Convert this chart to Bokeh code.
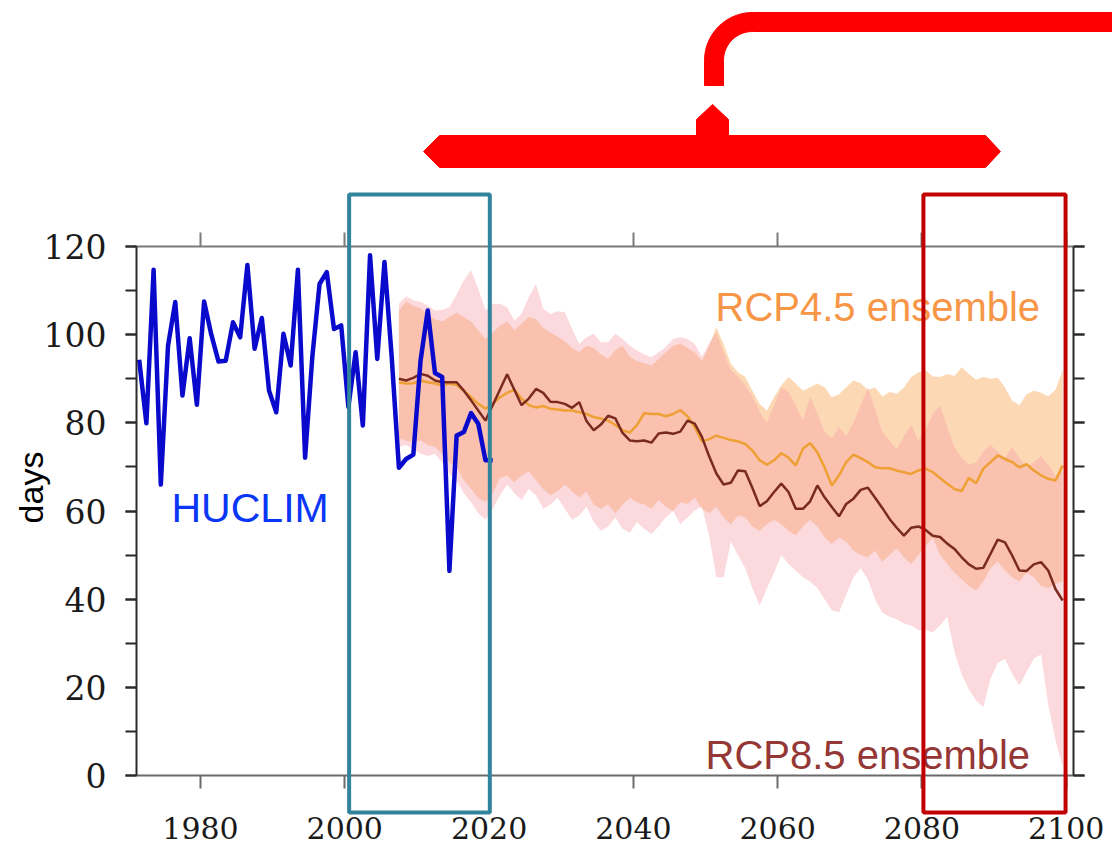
import math
from bokeh.plotting import figure
from bokeh.models import (LinearAxis, SingleIntervalTicker, Label, BoxAnnotation,
                          CustomJSTickFormatter, Range1d)
from bokeh.embed import file_html
from bokeh.resources import INLINE

# ---------------- data ----------------
obs_years = list(range(1971, 2021))
huclim = [94.3, 79.9, 114.7, 66.0, 97.5, 107.4, 86.2, 99.2, 84.1, 107.5,
          100.0, 93.9, 94.1, 102.8, 99.4, 115.8, 96.8, 103.8, 87.3, 82.4,
          100.2, 93.0, 114.7, 72.1, 95.0, 111.5, 114.2, 101.3, 102.1, 83.6,
          96.0, 79.4, 118.0, 94.5, 116.5, 95.0, 69.8, 71.8, 72.8, 94.1,
          105.5, 91.3, 90.4, 46.4, 77.1, 77.9, 82.2, 79.8, 71.5, 71.5]

proj_years = list(range(2007, 2100))
rcp85_mean = [90.0, 89.6, 90.2, 91.1, 90.7, 89.6, 89.2, 89.2, 89.2, 87.3,
              85.1, 82.8, 80.5, 84.0, 87.5, 91.0, 87.5, 84.0, 85.5, 87.7,
              86.8, 84.8, 84.7, 84.3, 83.4, 84.7, 80.4, 78.3, 79.6, 81.6,
              81.0, 77.7, 76.0, 75.8, 76.0, 75.5, 77.6, 77.8, 77.5, 78.0,
              80.5, 79.8, 76.8, 72.4, 68.5, 66.0, 66.4, 69.2, 69.0, 65.2,
              61.1, 62.2, 64.3, 66.2, 64.3, 60.5, 60.5, 62.2, 65.8, 63.1,
              60.9, 58.8, 61.6, 62.8, 64.8, 65.3, 63.0, 60.7, 58.2, 56.2,
              54.4, 56.2, 56.5, 55.7, 54.4, 54.1, 52.6, 51.4, 49.5, 47.9,
              46.9, 47.1, 50.3, 53.5, 52.9, 49.9, 46.5, 46.4, 47.9, 48.4,
              46.5, 42.3, 39.7]
rcp45_mean = [89.2, 88.9, 89.0, 89.6, 89.2, 88.9, 88.5, 88.9, 88.6, 87.3,
              85.8, 84.3, 83.2, 84.3, 85.8, 86.8, 87.5, 85.5, 84.0, 83.5,
              83.8, 83.2, 83.0, 82.8, 82.8, 82.4, 82.0, 81.3, 81.0, 80.5,
              79.5, 78.3, 77.8, 79.5, 82.2, 82.0, 82.0, 81.5, 82.0, 82.9,
              81.5, 79.0, 75.8, 76.3, 77.1, 76.6, 76.1, 75.8, 75.2, 73.7,
              71.5, 70.5, 71.5, 73.1, 72.1, 70.3, 74.1, 75.4, 73.3, 69.9,
              65.8, 68.1, 71.1, 72.8, 72.0, 71.1, 69.9, 69.7, 69.7, 69.2,
              68.8, 68.4, 69.2, 69.6, 68.8, 67.5, 66.2, 65.0, 64.5, 67.5,
              66.3, 69.6, 71.1, 72.6, 71.8, 71.1, 69.9, 70.6, 69.2, 68.1,
              67.3, 66.9, 70.3]
rcp85_high = [107.0, 108.7, 107.8, 107.4, 106.6, 105.5, 105.6, 106.2, 109.1, 112.3,
              114.6, 110.4, 105.5, 107.0, 107.0, 106.2, 103.2, 104.7, 108.5, 111.5,
              105.9, 104.7, 105.3, 105.1, 101.3, 97.9, 99.4, 100.2, 98.3, 98.3,
              100.2, 99.1, 97.5, 96.4, 95.5, 94.9, 96.0, 97.2, 99.0, 99.4,
              99.0, 97.9, 95.0, 98.0, 100.5, 96.0, 92.0, 90.5, 88.5, 86.0,
              82.5, 80.0, 84.0, 88.0, 87.0, 84.0, 80.5, 86.0, 82.0, 78.0,
              76.5, 79.0, 77.0, 80.0, 84.0, 88.0, 83.0, 78.0, 76.0, 74.0,
              77.0, 79.5, 76.0, 78.5, 82.0, 84.0, 79.0, 74.5, 72.0, 70.5,
              71.0, 73.5, 75.0, 73.5, 72.0, 74.5, 72.0, 70.0, 71.0, 72.5,
              70.5, 68.0, 69.0]
rcp85_low = [74.5, 75.0, 74.0, 73.0, 72.5, 73.0, 71.0, 68.5, 67.0, 64.0,
             62.0, 59.5, 58.0, 60.5, 63.5, 66.0, 64.0, 62.5, 65.0, 63.5,
             60.5, 61.5, 63.0, 60.5, 58.0, 59.0, 61.0, 57.5, 55.5, 56.5,
             58.5, 56.0, 55.0, 57.5, 56.0, 54.8, 56.5, 58.6, 60.0, 57.0,
             58.5, 60.1, 61.0, 54.5, 45.0, 45.0, 53.0, 50.0, 47.0, 42.5,
             38.5, 42.5, 46.0, 50.0, 48.0, 46.5, 45.0, 44.0, 42.5, 40.0,
             37.5, 37.0, 41.0, 45.0, 47.0, 44.5, 40.0, 37.0, 36.0, 35.5,
             34.5, 34.0, 33.0, 33.0, 32.5, 34.0, 36.0, 28.0, 23.0, 19.5,
             17.0, 15.5, 22.0, 25.5, 26.5, 23.0, 20.5, 23.5, 26.5, 27.5,
             16.0, 8.0, 2.0]
rcp45_high = [105.5, 107.5, 106.5, 106.0, 104.5, 103.5, 103.0, 104.0, 105.0, 104.0,
              103.0, 101.0, 99.0, 100.5, 102.0, 103.0, 101.0, 102.5, 104.0, 103.5,
              101.5, 100.5, 99.5, 98.5, 97.0, 96.0, 97.5, 97.0, 95.5, 94.5,
              96.5, 97.5, 95.0, 94.0, 93.5, 93.0, 94.5, 96.0, 97.5, 98.0,
              97.0, 96.0, 94.0, 97.5, 101.7, 97.9, 93.4, 91.5, 90.4, 87.3,
              84.3, 82.8, 85.8, 88.5, 90.4, 88.9, 87.3, 88.1, 88.9, 88.1,
              85.8, 86.5, 88.1, 89.6, 89.0, 87.5, 88.0, 86.0, 87.0, 86.6,
              88.0, 90.4, 91.5, 91.9, 90.5, 90.4, 91.1, 90.6, 92.6, 91.1,
              89.8, 90.4, 90.0, 90.2, 88.0, 85.0, 84.0, 86.5, 87.3, 86.8,
              86.0, 87.5, 91.9]
rcp45_low = [76.5, 76.0, 75.5, 76.0, 75.0, 74.5, 73.0, 71.0, 70.0, 67.0,
             65.0, 63.0, 62.0, 64.0, 67.5, 68.0, 66.5, 68.0, 69.0, 67.0,
             65.0, 63.6, 64.5, 66.0, 64.5, 63.0, 64.5, 61.5, 60.5, 61.5,
             59.5, 61.5, 63.0, 62.0, 61.5, 60.5, 62.5, 61.0, 60.0, 62.0,
             61.6, 63.0, 60.5, 59.5, 61.0, 58.5, 57.0, 59.0, 58.5, 56.5,
             55.5, 57.0, 58.0, 57.0, 55.5, 54.5, 56.5, 58.0, 56.5, 54.0,
             52.5, 54.0, 53.0, 51.0, 50.0, 49.5, 51.0, 48.5, 50.0, 51.5,
             49.5, 48.0, 50.0, 52.0, 54.0, 50.0, 48.0, 46.0, 44.5, 43.0,
             42.0, 44.0, 47.0, 48.5, 46.5, 45.0, 44.0, 46.0, 45.0, 43.0,
             42.5, 43.5, 44.0]

x_ticks_interval = 20
y_ticks_interval = 20
# highlighted periods (years) and their frame colours
highlight_periods = [(2000.6, 2020.1, "#31849B"), (2080.2, 2099.9, "#C00000")]

# ---------------- geometry ----------------
W, H = 1112, 852
FL, FR, FT, FB = 136, 1073, 246, 775
X0, X1 = 1971.13, 2101.0
Y0, Y1 = 0.0, 120.0


def px_x(px):
    return X0 + (px - FL) * (X1 - X0) / (FR - FL)


def px_y(py):
    return Y1 - (py - FT) * (Y1 - Y0) / (FB - FT)


p = figure(width=W, height=H, x_range=Range1d(X0, X1), y_range=Range1d(Y0, Y1),
           output_backend="svg", toolbar_location=None,
           x_axis_location=None, y_axis_location=None,
           min_border_left=FL, min_border_right=W - FR,
           min_border_top=FT, min_border_bottom=H - FB)
p.outline_line_color = None
p.grid.visible = False
p.background_fill_color = "white"
p.border_fill_color = "white"

TICK_FONT = "DejaVu Serif"


def style_axis(ax, col, labels=True, tick_len=12, size="30px"):
    ax.axis_line_color = col
    ax.axis_line_width = 2
    ax.major_tick_line_color = col
    ax.major_tick_line_width = 2
    ax.minor_tick_line_color = col
    ax.minor_tick_line_width = 2
    ax.major_tick_out = tick_len
    ax.major_tick_in = 0
    ax.minor_tick_out = tick_len
    ax.minor_tick_in = 0
    ax.major_label_text_font = TICK_FONT
    ax.major_label_text_font_size = size
    ax.major_label_text_color = "#1a1a1a"
    if not labels:
        ax.formatter = CustomJSTickFormatter(code="return ''")


xb = LinearAxis(ticker=SingleIntervalTicker(interval=x_ticks_interval, num_minor_ticks=0))
style_axis(xb, "#6a6a6a", tick_len=13)
xb.major_label_standoff = 28
p.add_layout(xb, "below")

xt = LinearAxis(ticker=SingleIntervalTicker(interval=x_ticks_interval, num_minor_ticks=0))
style_axis(xt, "#7a7a7a", labels=False, tick_len=14)
p.add_layout(xt, "above")

yl = LinearAxis(ticker=SingleIntervalTicker(interval=y_ticks_interval, num_minor_ticks=2))
style_axis(yl, "#2a2a2a", tick_len=11, size="33px")
yl.major_label_standoff = 19
p.add_layout(yl, "left")

yr = LinearAxis(ticker=SingleIntervalTicker(interval=y_ticks_interval, num_minor_ticks=2))
style_axis(yr, "#2a2a2a", labels=False, tick_len=11)
p.add_layout(yr, "right")

# ---------------- bands and lines ----------------
x_obs = [y + 0.5 for y in obs_years]
x_proj = [y + 0.5 for y in proj_years]

p.varea(x=x_proj, y1=rcp45_low, y2=rcp45_high, fill_color="#FBB26B", fill_alpha=0.5)
p.varea(x=x_proj, y1=rcp85_low, y2=rcp85_high, fill_color="#F4A0A8", fill_alpha=0.4)

p.line(x_proj, rcp45_mean, line_color="#EFA035", line_width=2.5)
p.line(x_proj, rcp85_mean, line_color="#7A2A1E", line_width=2.5)
p.line(x_obs, huclim, line_color="#0A0ACD", line_width=4.5, line_join="round")

# ---------------- texts inside the frame ----------------
p.add_layout(Label(x=px_x(171), y=px_y(507), text="HUCLIM", text_font="Liberation Sans",
                   text_font_size="41px", text_color="#0A36F5", text_baseline="alphabetic"))
p.add_layout(Label(x=px_x(715), y=px_y(306), text="RCP4.5 ensemble", text_font="Liberation Sans",
                   text_font_size="40px", text_color="#F79646", text_baseline="alphabetic"))
p.add_layout(Label(x=px_x(705), y=px_y(754), text="RCP8.5 ensemble", text_font="Liberation Sans",
                   text_font_size="40px", text_color="#953735", text_baseline="alphabetic"))

# ---------------- transparent overlay (own root) for decorations outside the frame ----------------
ov = figure(width=W, height=H, x_range=Range1d(px_x(0), px_x(W)), y_range=Range1d(px_y(H), px_y(0)),
            output_backend="svg", toolbar_location=None,
            x_axis_location=None, y_axis_location=None,
            min_border_left=0, min_border_right=0, min_border_top=0, min_border_bottom=0)
ov.outline_line_color = None
ov.grid.visible = False
ov.background_fill_alpha = 0
ov.border_fill_alpha = 0
ov.styles = {"position": "absolute", "top": "0px", "left": "0px"}

ov.add_layout(Label(x=px_x(30), y=px_y(487), text="days", text_font="Liberation Sans",
                    text_font_size="34px", text_color="black", angle=math.pi / 2,
                    text_align="center", text_baseline="middle"))

for x_a, x_b, col in highlight_periods:
    ov.add_layout(BoxAnnotation(left=x_a, right=x_b, top=px_y(194), bottom=px_y(812),
                                fill_alpha=0, line_color=col, line_width=4, line_alpha=1))

# red connector arrow
cx, cy, R, r = 752, 60, 48, 29
hook = [(1120, 12)]
for i in range(0, 19):
    t = math.radians(i * 5)
    hook.append((cx - R * math.sin(t), cy - R * math.cos(t)))
hook += [(704, 85), (723, 85)]
for i in range(18, -1, -1):
    t = math.radians(i * 5)
    hook.append((cx - r * math.sin(t), cy - r * math.cos(t)))
hook.append((1120, 31))

bar = [(423, 151), (439, 135), (696, 135), (696, 119), (712, 104), (728, 119),
       (728, 135), (985, 135), (1000, 151), (985, 167), (439, 167)]

for shape in (hook, bar):
    ov.patch([px_x(a) for a, _ in shape], [px_y(b) for _, b in shape],
             fill_color="#FF0000", line_color="#FF0000", line_width=1)

open("out.html", "w").write(file_html([p, ov], INLINE))
